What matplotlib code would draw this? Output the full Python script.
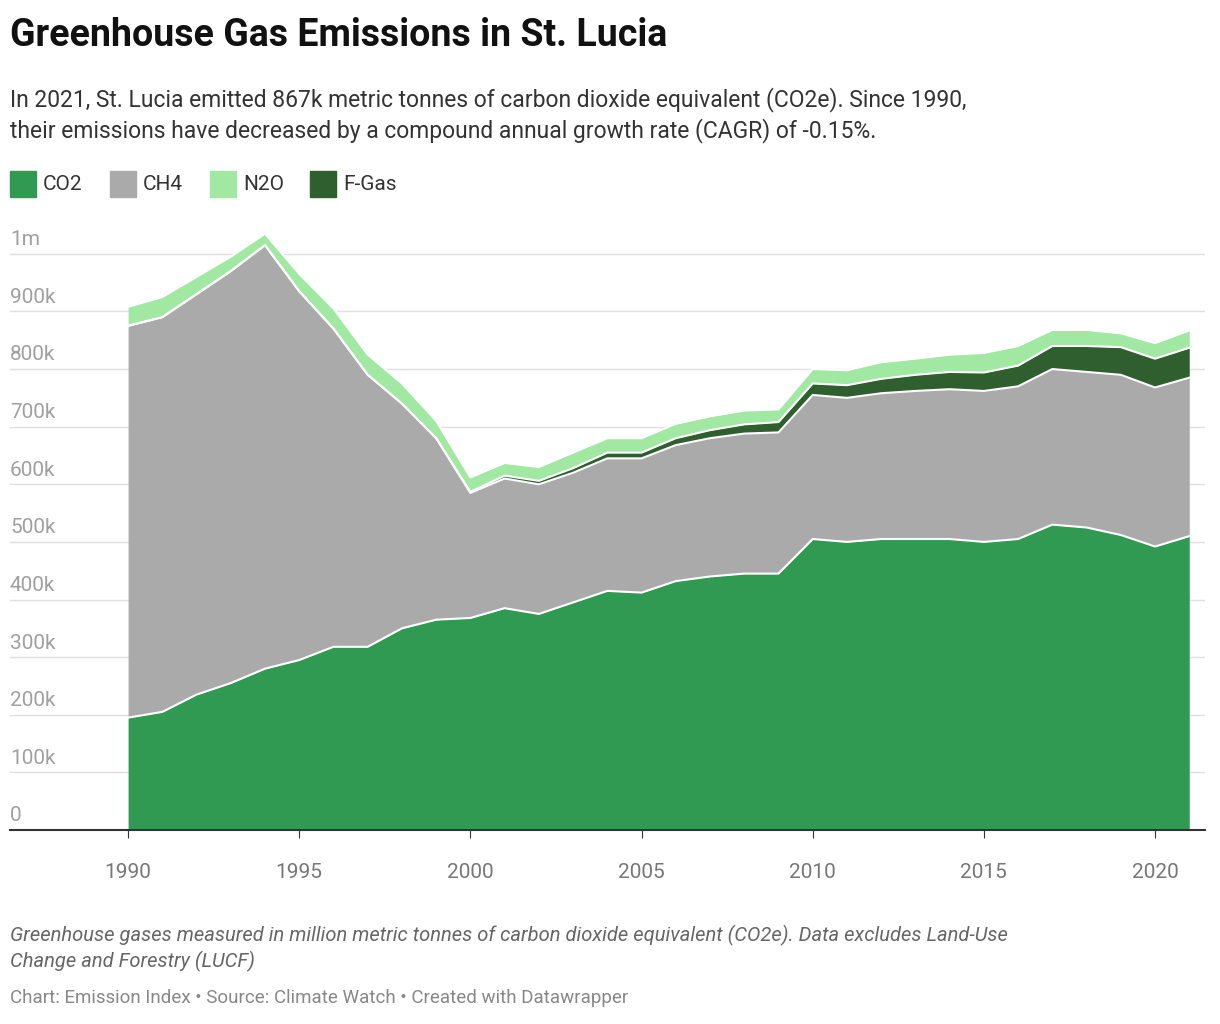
import numpy as np
import matplotlib.pyplot as plt

years = np.arange(1990, 2022)
co2 = [195, 205, 235, 255, 280, 295, 318, 318, 350, 365, 368, 385, 375, 395, 415, 412,
       432, 440, 445, 445, 505, 500, 505, 505, 505, 500, 505, 530, 525, 512, 492, 510]
co2_ch4 = [875, 890, 930, 970, 1015, 935, 870, 790, 740, 680, 585, 610, 600, 620, 645, 645,
           668, 680, 688, 690, 755, 750, 758, 762, 765, 762, 770, 800, 795, 790, 768, 785]
fgas = [0, 0, 0, 0, 0, 0, 0, 0, 0, 0, 2, 5, 6, 8, 10, 10,
        12, 14, 16, 18, 20, 22, 25, 28, 30, 32, 36, 40, 45, 48, 50, 52]
total = [908, 925, 960, 995, 1035, 965, 905, 825, 775, 710, 612, 637, 630, 655, 680, 680,
         705, 718, 728, 730, 800, 798, 812, 818, 825, 828, 840, 868, 868, 862, 845, 867]

co2 = np.array(co2) * 1000
ch4 = np.array(co2_ch4) * 1000 - co2
fgas = np.array(fgas) * 1000
n2o = np.array(total) * 1000 - co2 - ch4 - fgas

plt.rcParams['font.family'] = ['Roboto', 'DejaVu Sans']
fig = plt.figure(figsize=(12.2, 10.24), dpi=100)
ax = fig.add_axes([10 / 1220, 1 - 830 / 1024, 1195 / 1220, 605 / 1024])

colors = ['#309a52', '#aaaaaa', '#a1e8a3', '#2f5e2f']
labels = ['CO2', 'CH4', 'N2O', 'F-Gas']
layers = [co2, ch4, fgas, n2o]
order_colors = [colors[0], colors[1], colors[3], colors[2]]
base = np.zeros(len(years))
for vals, c in zip(layers, order_colors):
    ax.fill_between(years, base, base + vals, color=c, lw=0, zorder=2)
    base = base + vals
    ax.plot(years, base, color='white', lw=1.5, zorder=3)

ax.set_xlim(1986.55, 2021.46)
ax.set_ylim(0, 1050000)
yt = np.arange(0, 1000001, 100000)
ax.set_yticks(yt)
ax.yaxis.grid(True, color='#e0e0e0', lw=1, zorder=0)
ax.set_axisbelow(True)
ax.tick_params(axis='y', length=0, labelleft=False)
for v in yt:
    lab = '0' if v == 0 else ('1m' if v == 1000000 else f'{v // 1000}k')
    ax.text(1986.55, v + 8000, lab, fontsize=15, color='#a0a0a0', va='bottom', ha='left')
ax.set_xticks(range(1990, 2021, 5))
ax.tick_params(axis='x', labelsize=15, labelcolor='#777777', length=6, color='#333333', pad=18)
for s in ['top', 'right', 'left']:
    ax.spines[s].set_visible(False)
ax.spines['bottom'].set_color('#333333')
ax.spines['bottom'].set_linewidth(1.5)

fig.text(10 / 1220, 1 - 36 / 1024, 'Greenhouse Gas Emissions in St. Lucia', fontsize=27,
         fontweight='bold', va='center', color='#111111')
fig.text(10 / 1220, 1 - 115 / 1024,
         'In 2021, St. Lucia emitted 867k metric tonnes of carbon dioxide equivalent (CO2e). Since 1990,\n'
         'their emissions have decreased by a compound annual growth rate (CAGR) of -0.15%.',
         fontsize=16.5, va='center', color='#333333', linespacing=1.3)

lx = 10
for lab, c, w in zip(labels, colors, [100, 100, 100, 100]):
    fig.patches.append(plt.Rectangle((lx / 1220, 1 - 197 / 1024), 26 / 1220, 26 / 1024,
                                     color=c, transform=fig.transFigure))
    fig.text((lx + 33) / 1220, 1 - 184 / 1024, lab, fontsize=15, va='center', color='#333333')
    lx += {'CO2': 100, 'CH4': 100, 'N2O': 100, 'F-Gas': 100}[lab]

fig.text(10 / 1220, 1 - 948 / 1024,
         'Greenhouse gases measured in million metric tonnes of carbon dioxide equivalent (CO2e). Data excludes Land-Use\n'
         'Change and Forestry (LUCF)', fontsize=14.5, style='italic', color='#666666', va='center',
         linespacing=1.3)
fig.text(10 / 1220, 1 - 998 / 1024, 'Chart: Emission Index • Source: Climate Watch • Created with Datawrapper',
         fontsize=13.5, color='#888888', va='center')

fig.savefig('out.png', dpi=100, facecolor='white')
